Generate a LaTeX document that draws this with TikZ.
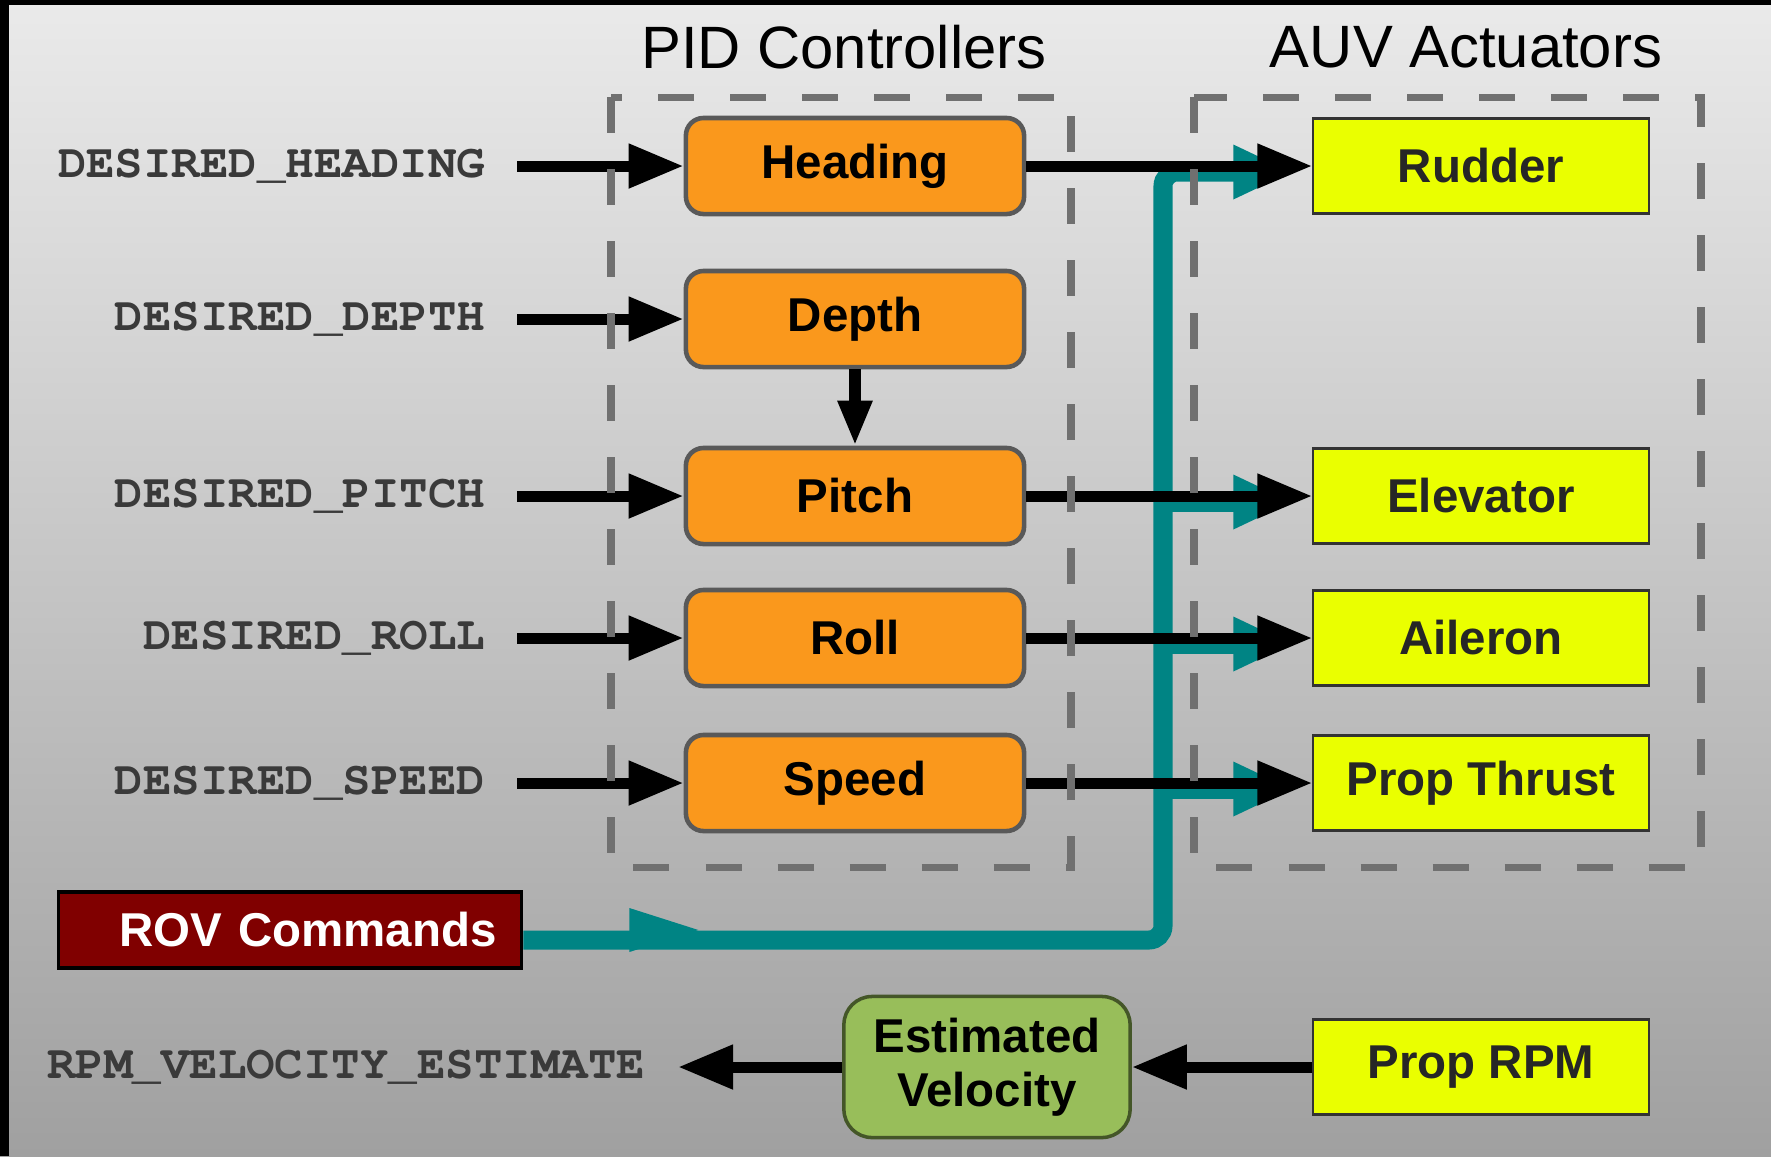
\documentclass[tikz,border=0pt]{standalone}
\usepackage{fontspec}
\setmainfont{Liberation Sans}
\setmonofont{TeX Gyre Cursor}
\usepackage{tikz}
\usetikzlibrary{arrows.meta, calc}
\definecolor{pidorange}{RGB}{250, 152, 28}
\definecolor{actyellow}{RGB}{234, 255, 0}
\definecolor{rovred}{RGB}{128, 0, 0}
\definecolor{busteal}{RGB}{0, 132, 132}
\definecolor{estgreen}{RGB}{152, 190, 90}
\definecolor{framegray}{RGB}{112, 112, 112}
\definecolor{siggray}{RGB}{58, 58, 58}
\definecolor{bgtop}{RGB}{234, 234, 234}
\definecolor{bgbottom}{RGB}{160, 160, 160}

\begin{document}
\begin{tikzpicture}[x=0.01cm, y=-0.01cm,
    pidbox/.style={draw=black!65, line width=1.3pt, fill=pidorange, rounded corners=5pt,
        minimum width=3.38cm, minimum height=0.96cm, font=\bfseries\fontsize{13.5}{15}\selectfont},
    actbox/.style={draw=black!80, line width=0.6pt, fill=actyellow, text=black!85,
        minimum width=3.35cm, minimum height=0.95cm, font=\bfseries\fontsize{13.5}{15}\selectfont},
    rovbox/.style={draw=black, line width=1pt, fill=rovred, text=white,
        minimum width=4.63cm, minimum height=0.76cm, text width=4.13cm, inner xsep=0.25cm,
        align=right, font=\bfseries\fontsize{13.5}{15}\selectfont},
    estbox/.style={draw=black!55!estgreen, line width=1pt, fill=estgreen, rounded corners=8pt,
        minimum width=2.86cm, minimum height=1.41cm, align=center,
        font=\bfseries\fontsize{13.5}{15.5}\selectfont},
    siglabel/.style={anchor=east, inner sep=0pt, text=siggray,
        font=\ttfamily\bfseries\fontsize{13.5}{15}\selectfont},
    sig/.style={line width=0.11cm, -{Triangle[length=0.55cm, width=0.42cm]}},
    bus/.style={busteal, line width=0.19cm, -{Triangle[length=0.6cm, width=0.5cm]}, shorten >=0.19cm},
    group/.style={framegray, line width=2pt, dash pattern=on 0.36cm off 0.36cm},
    title/.style={font=\fontsize{17}{20}\selectfont}]

    % sfondo
    \useasboundingbox (0,0) rectangle (1771,1156);
    \shade[top color=bgtop, bottom color=bgbottom] (0,0) rectangle (1771,1156);
    \fill[black] (0,0) rectangle (1771,5);
    \fill[black] (0,0) rectangle (9,1156);

    \node[title] (pidtitle) at (844,47) {PID Controllers};
    \node[title] (auvtitle) at (1466,47) {AUV Actuators};

    % controllori
    \node[pidbox] (heading) at (855,166) {Heading};
    \node[pidbox] (depth) at (855,319) {Depth};
    \node[pidbox] (pitch) at (855,496) {Pitch};
    \node[pidbox] (roll) at (855,638) {Roll};
    \node[pidbox] (speed) at (855,783) {Speed};

    % attuatori
    \node[actbox] (rudder) at (1481,166) {Rudder};
    \node[actbox] (elevator) at (1481,496) {Elevator};
    \node[actbox] (aileron) at (1481,638) {Aileron};
    \node[actbox] (thrust) at (1481,783) {Prop Thrust};
    \node[actbox] (proprpm) at (1481,1067) {Prop RPM};

    \node[rovbox] (rov) at (290,930) {ROV Commands};
    \node[estbox] (estvel) at (987,1067) {Estimated\\Velocity};

    % ingressi
    \node[siglabel] (inhdg) at (486,166) {DESIRED\_HEADING};
    \node[siglabel] (indepth) at (486,319) {DESIRED\_DEPTH};
    \node[siglabel] (inpitch) at (486,496) {DESIRED\_PITCH};
    \node[siglabel] (inroll) at (486,638) {DESIRED\_ROLL};
    \node[siglabel] (inspeed) at (486,783) {DESIRED\_SPEED};
    \node[siglabel] (outvel) at (646,1067) {RPM\_VELOCITY\_ESTIMATE};

    % comandi ROV (bus verde acqua)
    \coordinate (busbot) at (1163,940);
    \draw[bus, rounded corners=4pt] ([yshift=-0.1cm]rov.east) -- (busbot) |- ($(rudder.west)+(0,6)$);
    \draw[bus] ($(busbot |- elevator.west)+(0,6)$) -- ($(elevator.west)+(0,6)$);
    \draw[bus] ($(busbot |- aileron.west)+(0,6)$) -- ($(aileron.west)+(0,6)$);
    \draw[bus] ($(busbot |- thrust.west)+(0,6)$) -- ($(thrust.west)+(0,6)$);
    \fill[busteal] ($(rov.east)+(106,-22)$) -- ++(69,22) -- ++(-69,22) -- cycle;

    \draw[sig] ([xshift=0.31cm]inhdg.east) -- (heading.west);
    \draw[sig] ([xshift=0.31cm]indepth.east) -- (depth.west);
    \draw[sig] ([xshift=0.31cm]inpitch.east) -- (pitch.west);
    \draw[sig] ([xshift=0.31cm]inroll.east) -- (roll.west);
    \draw[sig] ([xshift=0.31cm]inspeed.east) -- (speed.west);

    \draw[line width=0.11cm, -{Triangle[length=0.45cm, width=0.32cm]}] (depth.south) -- (pitch.north);

    \draw[sig] (heading.east) -- (rudder.west);
    \draw[sig] (pitch.east) -- (elevator.west);
    \draw[sig] (roll.east) -- (aileron.west);
    \draw[sig] (speed.east) -- (thrust.west);

    \draw[sig] (proprpm.west) -- (estvel.east);
    \draw[sig] (estvel.west) -- ([xshift=0.32cm]outvel.east);

    % riquadri tratteggiati
    \draw[group] (611,97) rectangle (1071,867);
    \draw[group] (1194,97) rectangle (1701,867);
\end{tikzpicture}
\end{document}
